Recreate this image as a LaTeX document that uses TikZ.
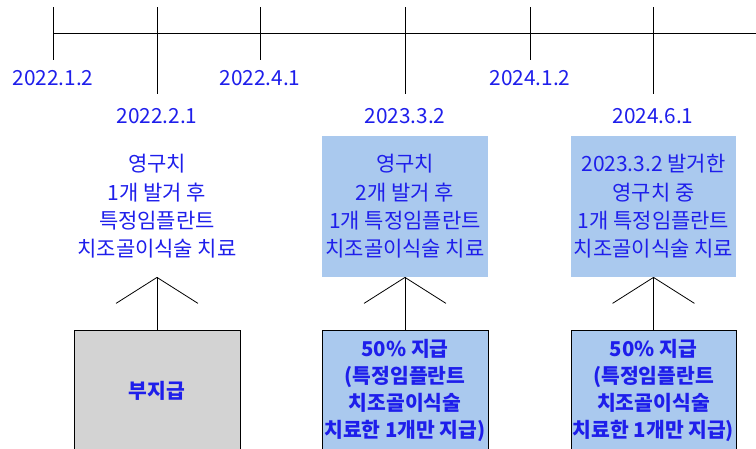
\documentclass[tikz,border=0pt]{standalone}
\usepackage{fontspec}
\setmainfont{Noto Sans CJK KR}
\usetikzlibrary{positioning}

\definecolor{datetext}{RGB}{30,30,235}
\definecolor{paidfill}{RGB}{170,201,238}
\definecolor{nopayfill}{RGB}{211,211,211}

\tikzset{
	date/.style={text=datetext, inner sep=0, font=\fontsize{20.8}{22}\selectfont},
	case/.style={minimum width=166, minimum height=141, inner sep=0, align=center,
		text=datetext, font=\fontsize{21}{28.4}\selectfont},
	result/.style={draw, minimum width=166, minimum height=120, inner sep=0, align=center,
		anchor=north, text=datetext, font=\bfseries\fontsize{20.4}{27}\selectfont},
	paid/.style={fill=paidfill},
	nopay/.style={fill=nopayfill}
}

\begin{document}
\begin{tikzpicture}[x=1pt, y=-1pt, line width=0.8pt]
	\clip (0,0) rectangle (756,448);

% TIME LINE
	\draw (53,33) -- (756,33);
	\foreach \x/\y/\ly/\d in {53/60/78/2022.1.2, 157/94/116/2022.2.1, 260/60/78/2022.4.1,
		405/94/116/2023.3.2, 530/60/78/2024.1.2, 653/94/116/2024.6.1}
	{
		\draw (\x,7) -- (\x,\y);
		\node [date] (d\x) at (\x,\ly) {\d};
	}

% CASES
	\node [case] (c1) at (157,206.5) {영구치\\1개 발거 후\\특정임플란트\\치조골이식술 치료};
	\node [case, paid] (c2) at (405,206.5) {영구치\\2개 발거 후\\1개 특정임플란트\\치조골이식술 치료};
	\node [case, paid, minimum width=165] (c3) at (653.5,206.5) {2023.3.2 발거한\\영구치 중\\1개 특정임플란트\\치조골이식술 치료};

% RESULTS
	\node [result, nopay] (r1) at (157,330) {부지급};
	\node [result, paid] (r2) at (405,330) {50\% 지급\\(특정임플란트\\치조골이식술\\치료한 1개만 지급)};
	\node [result, paid, minimum width=165] (r3) at (653.5,330) {50\% 지급\\(특정임플란트\\치조골이식술\\치료한 1개만 지급)};

% CONNECTORS
	\foreach \i in {1,2,3}
	{
		\draw (c\i.south) -- (r\i.north);
		\draw (c\i.south) -- ++(-41,26);
		\draw (c\i.south) -- ++(41,26);
	}

\end{tikzpicture}
\end{document}
